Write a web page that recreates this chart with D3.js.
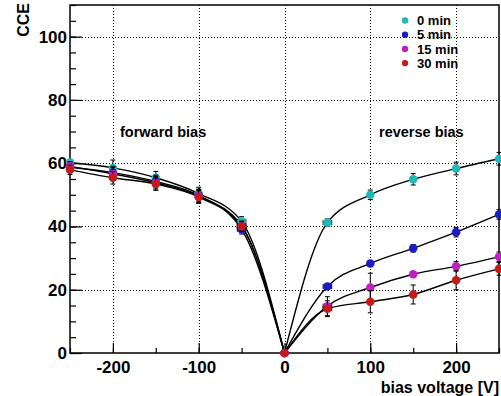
<!DOCTYPE html>
<html>
<head>
<meta charset="utf-8">
<script src="https://cdn.jsdelivr.net/npm/d3@7"></script>
<style>
  body { margin: 0; background: #fff; }
  svg { display: block; font-family: "Liberation Sans", Arial, Helvetica, sans-serif; font-weight: bold; }
</style>
</head>
<body>
<svg id="chart" width="501" height="396"></svg>
<script>
// Bias voltages (V)
const voltages = [-250, -200, -150, -100, -50, 0, 50, 100, 150, 200, 250];

// Charge collection efficiency per annealing time
const seriesNames = ["0 min", "5 min", "15 min", "30 min"];
const seriesColors = ["#1fb8b8", "#1c1cc4", "#c21fc2", "#c41a1a"];
const cce0  = [60.2, 58.5, 55.4, 50.4, 41.6, 0, 41.2, 50.0, 54.9, 58.3, 61.4];
const cce5  = [58.7, 57.0, 54.2, 49.8, 39.1, 0, 21.0, 28.3, 33.1, 38.2, 43.8];
const cce15 = [59.0, 56.6, 53.8, 49.6, 40.2, 0, 14.8, 20.7, 24.9, 27.4, 30.4];
const cce30 = [57.9, 55.4, 53.4, 49.3, 40.0, 0, 14.0, 16.2, 18.5, 23.0, 26.6];
// Uncertainties
const err0  = [1.0, 2.5, 2.0, 2.0, 1.5, 0, 1.2, 1.5, 1.8, 2.0, 2.0];
const err5  = [1.5, 2.0, 2.0, 2.0, 1.5, 0, 0.8, 0.8, 1.2, 1.5, 1.5];
const err15 = [1.5, 2.0, 2.0, 2.0, 1.5, 0, 3.0, 4.5, 0.8, 1.5, 1.5];
const err30 = [1.5, 2.0, 2.0, 2.0, 1.5, 0, 2.5, 3.5, 3.0, 3.0, 2.0];
const xErr  = [0, 0, 0, 0, 5, 0, 5, 0, 0, 0, 0];

const xTicks = [-200, -100, 0, 100, 200];
const yTicks = [0, 20, 40, 60, 80, 100];

const values = [cce0, cce5, cce15, cce30];
const errors = [err0, err5, err15, err30];

const svg = d3.select("#chart");
const padL = 70, padR = 499, padT = 5, padB = 353;

const x = d3.scaleLinear().domain([-250, 250]).range([padL, padR]);
const y = d3.scaleLinear().domain([0, 110]).range([padB, padT]);

// Grid
const grid = svg.append("g").attr("stroke", "#000").attr("stroke-width", 1)
  .attr("stroke-dasharray", "1,2");
grid.selectAll(".gx").data(xTicks).join("line")
  .attr("x1", d => Math.round(x(d)) + 0.5).attr("x2", d => Math.round(x(d)) + 0.5)
  .attr("y1", padT).attr("y2", padB);
grid.selectAll(".gy").data(yTicks.filter(d => d > 0)).join("line")
  .attr("y1", d => Math.round(y(d)) + 0.5).attr("y2", d => Math.round(y(d)) + 0.5)
  .attr("x1", padL).attr("x2", padR);

// Axes (ticks inside the frame)
const fmt = d => String(d);
const xAxis = d3.axisBottom(x).tickValues(xTicks).tickSize(-10).tickPadding(8).tickFormat(fmt);
const xMinor = d3.axisBottom(x).tickValues(d3.range(-250, 251, 50)).tickSize(-5).tickFormat("");
const yAxis = d3.axisLeft(y).tickValues(yTicks).tickSize(-12).tickPadding(3).tickFormat(fmt);
const yMinor = d3.axisLeft(y).tickValues(d3.range(0, 111, 5)).tickSize(-6).tickFormat("");

function styleAxis(g) {
  g.attr("font-family", null).attr("font-size", null);
  g.select(".domain").remove();
  g.selectAll("line").attr("stroke", "#000").attr("stroke-width", 1.2);
  g.selectAll("text").attr("fill", "#000").style("font-size", "17px").style("font-weight", "bold")
    .style("font-family", "'Liberation Sans', Arial, sans-serif");
}
svg.append("g").attr("transform", `translate(0,${padB})`).call(xMinor).call(styleAxis);
svg.append("g").attr("transform", `translate(0,${padB})`).call(xAxis).call(styleAxis);
svg.append("g").attr("transform", `translate(${padL},0)`).call(yMinor).call(styleAxis);
svg.append("g").attr("transform", `translate(${padL},0)`).call(yAxis).call(styleAxis);

// Frame
svg.append("rect").attr("x", padL).attr("y", padT).attr("width", padR - padL).attr("height", padB - padT)
  .attr("fill", "none").attr("stroke", "#000").attr("stroke-width", 1.5);

// Fit curves: forward and reverse branches for each series
const line = d3.line().x(d => x(d[0])).y(d => y(d[1])).curve(d3.curveMonotoneX);
values.forEach(vals => {
  const pts = voltages.map((v, i) => [v, vals[i]]);
  const fwd = pts.filter(p => p[0] <= 0);
  const rev = pts.filter(p => p[0] >= 0);
  [fwd, rev].forEach(seg => {
    svg.append("path").attr("d", line(seg)).attr("fill", "none")
      .attr("stroke", "#000").attr("stroke-width", 1.4);
  });
});

// Error bars and markers
values.forEach((vals, s) => {
  const g = svg.append("g");
  voltages.forEach((v, i) => {
    const cx = x(v), cy = y(vals[i]);
    const e = errors[s][i];
    if (e > 0) {
      const y1 = y(vals[i] + e), y2 = y(vals[i] - e);
      g.append("line").attr("x1", cx).attr("x2", cx).attr("y1", y1).attr("y2", y2)
        .attr("stroke", "#000").attr("stroke-width", 1);
      [y1, y2].forEach(yy => g.append("line").attr("x1", cx - 2.5).attr("x2", cx + 2.5)
        .attr("y1", yy).attr("y2", yy).attr("stroke", "#000").attr("stroke-width", 1));
    }
    if (xErr[i] > 0) {
      const x1 = x(v - xErr[i]), x2 = x(v + xErr[i]);
      g.append("line").attr("x1", x1).attr("x2", x2).attr("y1", cy).attr("y2", cy)
        .attr("stroke", "#000").attr("stroke-width", 1);
      [x1, x2].forEach(xx => g.append("line").attr("x1", xx).attr("x2", xx)
        .attr("y1", cy - 2.5).attr("y2", cy + 2.5).attr("stroke", "#000").attr("stroke-width", 1));
    }
    g.append("circle").attr("cx", cx).attr("cy", cy).attr("r", 4.3).attr("fill", seriesColors[s]);
  });
});

// Annotations
svg.append("text").attr("x", 120).attr("y", 137).style("font-size", "14.5px").text("forward bias");
svg.append("text").attr("x", 379).attr("y", 137).style("font-size", "14.5px").text("reverse bias");

// Axis titles
svg.append("text").attr("x", 499).attr("y", 393).attr("text-anchor", "end")
  .style("font-size", "16px").text("bias voltage [V]");
svg.append("text").attr("transform", "translate(28.5,3) rotate(-90)").attr("text-anchor", "end")
  .style("font-size", "16px").text("CCE");

// Legend
const legend = svg.append("g");
seriesNames.forEach((name, i) => {
  const ly = 20.5 + i * 14.2;
  legend.append("circle").attr("cx", 405).attr("cy", ly).attr("r", 3.2).attr("fill", seriesColors[i]);
  legend.append("text").attr("x", 417).attr("y", ly + 4.6).style("font-size", "13px").text(name);
});
</script>
</body>
</html>
